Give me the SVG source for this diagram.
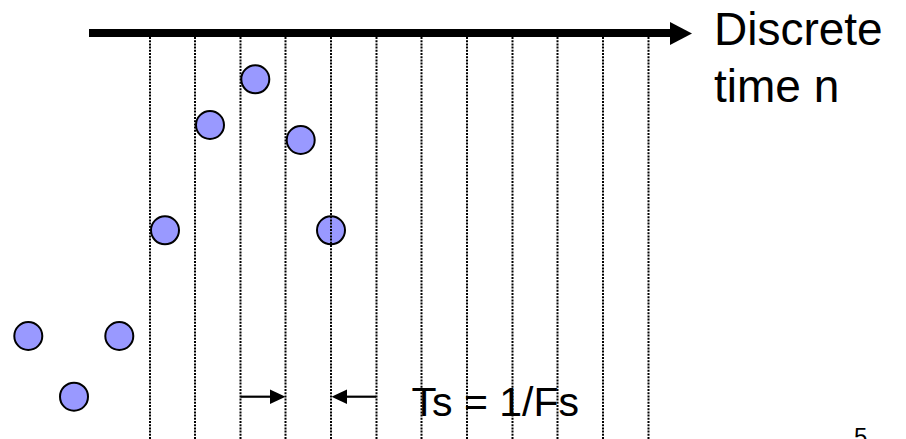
<svg xmlns="http://www.w3.org/2000/svg" width="906" height="439" viewBox="0 0 906 439">
<style>
.pt{fill:#9999FF;stroke:#000;stroke-width:2}
.grid line{stroke:#000;stroke-width:2;stroke-dasharray:2 1.2}
.lbl{font-family:"Liberation Sans",Arial,sans-serif;fill:#000}
.arw{stroke:#000;stroke-width:2.2}
</style>
<rect width="906" height="439" fill="#fff"/>
<g id="samples">
<circle id="s0" class="pt" cx="28.3" cy="336" r="14"/>
<circle id="s1" class="pt" cx="74" cy="396.7" r="14"/>
<circle id="s2" class="pt" cx="119.3" cy="336" r="14"/>
<circle id="s3" class="pt" cx="165" cy="230.3" r="14"/>
<circle id="s4" class="pt" cx="210" cy="125" r="14"/>
<circle id="s5" class="pt" cx="255.3" cy="79.3" r="14"/>
<circle id="s6" class="pt" cx="300.7" cy="140" r="14"/>
<circle id="s7" class="pt" cx="331" cy="230.3" r="14"/>
</g>
<g id="grid" class="grid">
<line x1="150" y1="37" x2="150" y2="439"/>
<line x1="195" y1="37" x2="195" y2="439"/>
<line x1="240.5" y1="37" x2="240.5" y2="439"/>
<line x1="285.5" y1="37" x2="285.5" y2="439"/>
<line x1="331" y1="37" x2="331" y2="439"/>
<line x1="376.5" y1="37" x2="376.5" y2="439"/>
<line x1="421.5" y1="37" x2="421.5" y2="439"/>
<line x1="467" y1="37" x2="467" y2="439"/>
<line x1="512.5" y1="37" x2="512.5" y2="439"/>
<line x1="557.5" y1="37" x2="557.5" y2="439"/>
<line x1="603" y1="37" x2="603" y2="439"/>
<line x1="648.5" y1="37" x2="648.5" y2="439"/>
</g>
<g id="connectors">
<line x1="89" y1="33" x2="672" y2="33" stroke="#000" stroke-width="8"/>
<path d="M670,22 L692,33.5 L670,45 z" fill="#000"/>
<line class="arw" x1="240.7" y1="396.7" x2="272" y2="396.7"/>
<path d="M270,389.5 L285.5,396.7 L270,404 z" fill="#000"/>
<line class="arw" x1="376" y1="396.7" x2="345" y2="396.7"/>
<path d="M347,389.5 L331.5,396.7 L347,404 z" fill="#000"/>
</g>
<g id="labels">
<text class="lbl" x="714" y="45" font-size="46">Discrete</text>
<text class="lbl" x="714" y="101.7" font-size="46">time n</text>
<text class="lbl" x="411.5" y="416" font-size="41">Ts = 1/Fs</text>
<text class="lbl" x="854" y="445" font-size="24">5</text>
</g>
</svg>
